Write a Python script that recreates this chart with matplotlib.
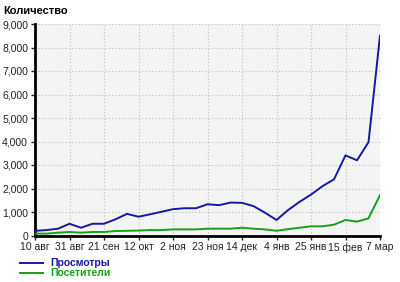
import matplotlib
matplotlib.use("Agg")
import matplotlib.pyplot as plt
from matplotlib.lines import Line2D
from matplotlib.ticker import FuncFormatter

plt.rcParams["font.family"] = ["Liberation Sans", "DejaVu Sans"]

# weekly points, 10 aug .. 7 mar
weeks = list(range(31))
tick_labels = ["10 авг", "31 авг", "21 сен", "12 окт", "2 ноя", "23 ноя",
               "14 дек", "4 янв", "25 янв", "15 фев", "7 мар"]
views = [200, 230, 290, 500, 330, 500, 500, 690, 920, 800, 900,
         1010, 1120, 1160, 1160, 1330, 1290, 1400, 1390, 1250, 970,
         660, 1080, 1430, 1740, 2100, 2390, 3410, 3200, 3970, 8500]
visitors = [80, 80, 120, 150, 120, 150, 150, 190, 200, 210, 230,
            230, 260, 260, 260, 290, 290, 290, 330, 290, 260,
            200, 270, 330, 390, 390, 460, 660, 590, 730, 1720]

blue = "#1818a0"
green = "#18a018"

fig = plt.figure(figsize=(4.0, 2.82), dpi=100)
ax = fig.add_axes([35 / 400, 1 - 235.5 / 282, 345 / 400, 211.5 / 282])
ax.set_facecolor("#f4f4f4")

ax.plot(weeks, views, color=blue, lw=1.4, zorder=3)
ax.plot(weeks, visitors, color=green, lw=1.4, zorder=3)

ax.set_xlim(0, 30)
ax.set_ylim(0, 9000)
ax.set_xticks(range(0, 31, 3))
ax.set_xticklabels(tick_labels)
ax.set_yticks(range(0, 9001, 1000))
ax.yaxis.set_major_formatter(FuncFormatter(lambda v, p: f"{int(v):,}"))
ax.tick_params(labelsize=7.5, colors="#222222", length=3, width=1, pad=2)

ax.grid(True, color="#bbbbbb", ls=(0, (1, 2)), lw=0.8)
for s in ["top", "right"]:
    ax.spines[s].set_visible(False)
ax.spines["left"].set_linewidth(2)
ax.spines["bottom"].set_linewidth(2)

fig.text(3 / 400, 1 - 11 / 282, "Количество", fontsize=8, fontweight="bold",
         ha="left", va="center")

# legend drawn below the axes
fig.add_artist(Line2D([20 / 400, 43 / 400], [1 - 263 / 282] * 2, color=blue, lw=1.4))
fig.add_artist(Line2D([20 / 400, 43 / 400], [1 - 273 / 282] * 2, color=green, lw=1.4))
fig.text(50 / 400, 1 - 263 / 282, "Просмотры", color=blue, fontsize=7.5,
         fontweight="bold", va="center")
fig.text(50 / 400, 1 - 273 / 282, "Посетители", color=green, fontsize=7.5,
         fontweight="bold", va="center")

fig.savefig("out.png", dpi=100)
